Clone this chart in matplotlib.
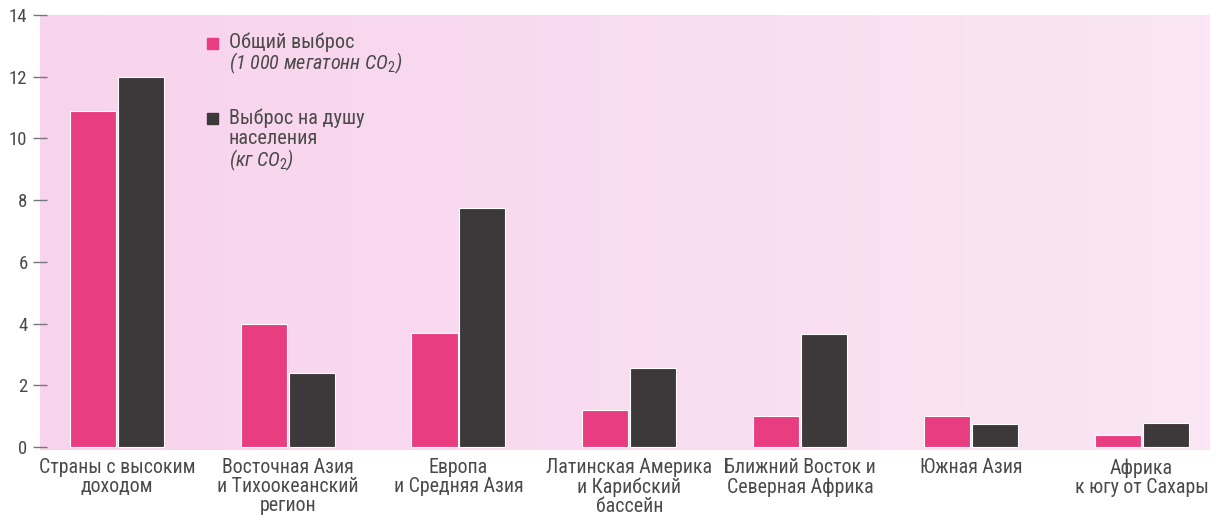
import numpy as np
import matplotlib
matplotlib.use("Agg")
import matplotlib.pyplot as plt
from matplotlib.colors import LinearSegmentedColormap

plt.rcParams['font.family'] = ['Roboto Condensed', 'DejaVu Sans']
plt.rcParams['mathtext.fontset'] = 'custom'
plt.rcParams['mathtext.rm'] = 'Roboto Condensed'
plt.rcParams['mathtext.it'] = 'Roboto Condensed:italic'

regions = ["Страны с высоким\nдоходом",
           "Восточная Азия\nи Тихоокеанский\nрегион",
           "Европа\nи Средняя Азия",
           "Латинская Америка\nи Карибский\nбассейн",
           "Ближний Восток и\nСеверная Африка",
           "Южная Азия",
           "Африка\nк югу от Сахары"]
total = [10.9, 4.0, 3.7, 1.2, 1.0, 1.0, 0.4]        # 1 000 мегатонн CO2
per_capita = [12.0, 2.4, 7.75, 2.55, 3.65, 0.75, 0.78]  # кг CO2
yticks = [0, 2, 4, 6, 8, 10, 12, 14]

PINK = "#e83d80"
DARK = "#3d3839"
GREY = "#4a4a4a"

fig = plt.figure(figsize=(12.16, 5.16), dpi=100)
ax = fig.add_axes([40/1216, 1-450/516, 1170/1216, 435/516])

# pink paper background, a bit stronger on the left
cmap = LinearSegmentedColormap.from_list("bg", ["#f8d3ed", "#fae6f4"])
ax.imshow(np.linspace(0, 1, 256).reshape(1, -1), cmap=cmap, aspect="auto",
          extent=[0, 1, 0, 1], transform=ax.transAxes, zorder=0)

x = np.arange(len(regions))
w = 0.27
ax.bar(x - 0.14, total, w, color=PINK, edgecolor="white", linewidth=0.8, zorder=2)
ax.bar(x + 0.14, per_capita, w, color=DARK, edgecolor="white", linewidth=0.8, zorder=2)

ax.set_xlim(-0.45, 6.40)
ax.set_ylim(-0.1, 14.0)
ax.set_yticks(yticks)
ax.set_yticklabels([str(t) for t in yticks], fontsize=13.5, color=GREY)
ax.tick_params(axis="y", direction="inout", length=10, width=1, color="#777777", pad=4)
ax.set_xticks(x)
ax.set_xticklabels(regions, fontsize=14.3, color=GREY, linespacing=1.0)
ax.tick_params(axis="x", length=0, pad=6)
for s in ax.spines.values():
    s.set_visible(False)

# legend drawn by hand
def px(xp, yp):
    return xp/1216, 1 - yp/516

fig.patches.append(plt.Rectangle(px(207, 49), 11/1216, 11/516, color=PINK,
                                 transform=fig.transFigure, figure=fig))
fig.patches.append(plt.Rectangle(px(207, 124), 11/1216, 11/516, color=DARK,
                                 transform=fig.transFigure, figure=fig))
kw = dict(fontsize=14.6, color=GREY, va="center", ha="left")
fig.text(*px(229, 42), "Общий выброс", **kw)
fig.text(*px(229, 63), "(1 000 мегатонн $\\mathit{CO_2}$)", style="italic", **kw)
fig.text(*px(229, 118), "Выброс на душу", **kw)
fig.text(*px(229, 139), "населения", **kw)
fig.text(*px(229, 160), "(кг $\\mathit{CO_2}$)", style="italic", **kw)

fig.savefig("out.png", dpi=100)
